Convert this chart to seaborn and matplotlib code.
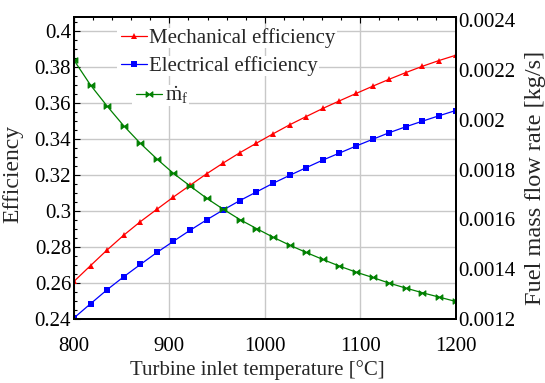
import numpy as np
import pandas as pd
import matplotlib
matplotlib.use("Agg")
import matplotlib.pyplot as plt
from matplotlib.path import Path
from matplotlib.patches import Rectangle
from matplotlib.ticker import MultipleLocator, FuncFormatter
import seaborn as sns

# ---- data ----
temperature = [800.0, 817.4, 834.8, 852.2, 869.6, 887.0, 904.3, 921.7, 939.1, 956.5,
               973.9, 991.3, 1008.7, 1026.1, 1043.5, 1060.9, 1078.3, 1095.7, 1113.0,
               1130.4, 1147.8, 1165.2, 1182.6, 1200.0]
mechanical_eff = [0.2609, 0.2697, 0.2784, 0.2866, 0.2941, 0.3010, 0.3078, 0.3143, 0.3207,
                  0.3267, 0.3324, 0.3377, 0.3429, 0.3479, 0.3525, 0.3570, 0.3612, 0.3653,
                  0.3693, 0.3732, 0.3769, 0.3804, 0.3836, 0.3865]
electrical_eff = [0.2406, 0.2485, 0.2563, 0.2635, 0.2703, 0.2770, 0.2832, 0.2893, 0.2951,
                  0.3006, 0.3058, 0.3106, 0.3154, 0.3198, 0.3241, 0.3283, 0.3322, 0.3361,
                  0.3398, 0.3435, 0.3468, 0.3499, 0.3529, 0.3558]
fuel_flow = [0.0022396, 0.0021394, 0.0020550, 0.0019760, 0.0019056, 0.0018428, 0.0017850,
             0.0017345, 0.0016850, 0.0016410, 0.0015996, 0.0015635, 0.0015287, 0.0014967,
             0.0014673, 0.0014392, 0.0014125, 0.0013884, 0.0013670, 0.0013443, 0.0013243,
             0.0013056, 0.0012882, 0.0012708]

labels = ["Mechanical efficiency", "Electrical efficiency",
          r"$\dot{\mathrm{m}}_{\mathrm{f}}$"]
xlabel = "Turbine inlet temperature [°C]"
ylabel_left = "Efficiency"
ylabel_right = "Fuel mass flow rate [kg/s]"

df = pd.DataFrame({"T": temperature, "mech": mechanical_eff,
                   "elec": electrical_eff, "fuel": fuel_flow})

sns.set_theme(style="white")
plt.rcParams["font.family"] = ["Liberation Serif", "DejaVu Serif"]
plt.rcParams["mathtext.fontset"] = "custom"
plt.rcParams["mathtext.rm"] = "Liberation Serif"
plt.rcParams["mathtext.it"] = "Liberation Serif:italic"

W, H = 545, 383
L, R, T, B = 74, 455.5, 17, 319
fig = plt.figure(figsize=(W/100, H/100), dpi=100)
ax = fig.add_axes([L/W, 1-B/H, (R-L)/W, (B-T)/H])
ax2 = ax.twinx()

bowtie = Path([(-1, -0.8), (-1, 0.8), (1, -0.8), (1, 0.8), (-1, -0.8)],
              [Path.MOVETO, Path.LINETO, Path.LINETO, Path.LINETO, Path.CLOSEPOLY])

RED, BLUE, GREEN = "#ff0000", "#0000ff", "#008000"
sns.lineplot(data=df, x="T", y="mech", ax=ax, color=RED, marker="^",
             markersize=5, markeredgewidth=0, linewidth=0.9, label=labels[0], legend=False)
sns.lineplot(data=df, x="T", y="elec", ax=ax, color=BLUE, marker="s",
             markersize=4, markeredgewidth=0, linewidth=0.9, label=labels[1], legend=False)
sns.lineplot(data=df, x="T", y="fuel", ax=ax2, color=GREEN, marker=bowtie,
             markersize=4.8, markeredgewidth=0.8, markeredgecolor=GREEN,
             markerfacecolor=GREEN, linewidth=0.9, label=labels[2], legend=False)

ax.set_xlim(800, 1200)
ax.set_ylim(0.24, 0.4078)
ax2.set_ylim(0.0012, 0.0024134)

ax.xaxis.set_major_locator(MultipleLocator(100))
ax.xaxis.set_minor_locator(MultipleLocator(20))
ax.yaxis.set_major_locator(MultipleLocator(0.02))
ax.yaxis.set_minor_locator(MultipleLocator(0.005))
ax2.yaxis.set_major_locator(MultipleLocator(0.0002))

fmt = FuncFormatter(lambda v, p: f"{v:.4f}".rstrip("0").rstrip("."))
ax.yaxis.set_major_formatter(fmt)
ax2.yaxis.set_major_formatter(fmt)
ax.xaxis.set_major_formatter(FuncFormatter(lambda v, p: f"{v:.0f}"))

ax.grid(True, which="major", color="#c8c8c8", linewidth=1.0)
ax2.grid(False)

for a in (ax, ax2):
    for s in a.spines.values():
        s.set_color("black")
        s.set_linewidth(1.4)

TICK = 15
ax.tick_params(axis="both", which="both", direction="in", top=True, right=False,
               colors="black", labelsize=TICK)
ax.tick_params(which="major", length=4, width=0.8)
ax.tick_params(which="minor", length=2.5, width=0.8)
ax.tick_params(axis="x", pad=13)
ax.tick_params(axis="y", pad=2)
ax2.tick_params(axis="y", which="both", direction="in", length=0, colors="black",
                labelsize=TICK, pad=2)

ax.set_xlabel(xlabel, fontsize=15)
ax.set_ylabel(ylabel_left, fontsize=17)
ax2.set_ylabel(ylabel_right, fontsize=17.5)
ax.xaxis.set_label_coords((257 - L)/(R - L), -(360 - B)/(B - T))
ax.yaxis.set_label_coords((23 - L)/(R - L), 0.48)
ax2.yaxis.set_label_coords((525 - L)/(R - L), 0.4685)

h1, l1 = ax.get_legend_handles_labels()
h2, l2 = ax2.get_legend_handles_labels()
leg = ax2.legend(h1 + h2, l1 + l2, loc="upper left", bbox_to_anchor=(0.118, 0.97),
                 frameon=False, fontsize=15, handlelength=1.25, handletextpad=0.1,
                 borderpad=0.0, labelspacing=0.4, borderaxespad=0.1)
leg.set_zorder(10)

# third legend row is indented in the reference: widen its handle box and shift the handle
SHIFT = 11.0  # points
col = leg._legend_handle_box.get_children()[0]
row3 = col.get_children()[2]
da = row3.get_children()[0]
for c in da.get_children():
    if hasattr(c, "set_xdata"):
        c.set_xdata(np.asarray(c.get_xdata()) + SHIFT)
da.width += SHIFT

# white backing behind each legend row (hides grid lines as in the reference)
fig.canvas.draw()
r = fig.canvas.get_renderer()
inv = fig.transFigure.inverted()
texts = leg.get_texts()
lines = leg.get_lines()
for i, t in enumerate(texts):
    tb = t.get_window_extent(r)
    lb = lines[i].get_window_extent(r)
    x0 = min(tb.x0, lb.x0) - 1
    x1 = tb.x1 + 1
    y0, y1 = tb.y0, tb.y1
    (fx0, fy0), (fx1, fy1) = inv.transform([(x0, y0), (x1, y1)])
    rect = Rectangle((fx0, fy0), fx1 - fx0, fy1 - fy0, transform=fig.transFigure,
                     facecolor="white", edgecolor="none", zorder=5)
    rect.set_clip_on(False)
    ax2.add_artist(rect)

fig.savefig("out.png", dpi=100)
